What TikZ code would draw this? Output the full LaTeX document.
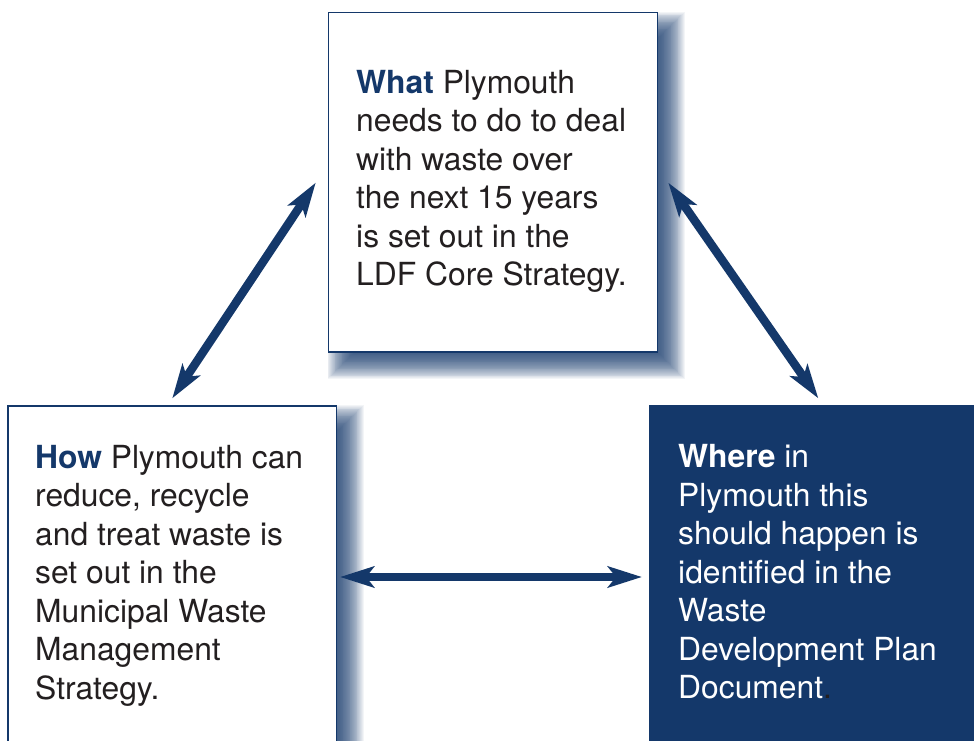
\documentclass[tikz,border=0pt]{standalone}
\usepackage{fontspec}
\setmainfont{TeX Gyre Heros}
\usetikzlibrary{arrows.meta}
\definecolor{navy}{RGB}{20,56,106}
\definecolor{txt}{RGB}{35,31,32}
\begin{document}
\begin{tikzpicture}[x=1pt,y=-1pt,
  box/.style={draw=navy, line width=1.5pt, fill=white, inner sep=0pt, anchor=north west},
  darkbox/.style={draw=navy, line width=1pt, fill=navy, inner sep=0pt, anchor=north west},
  label/.style={anchor=base west, inner sep=0pt, text=txt, font=\fontsize{31.8}{38.5}\selectfont},
  link/.style={draw=navy, line width=8.5pt,
    {Stealth[length=34pt,width=21pt,inset=8pt]}-{Stealth[length=34pt,width=21pt,inset=8pt]}}]
\useasboundingbox (0,0) rectangle (974,741);
\clip (0,0) rectangle (974,741);
% shadows
\foreach \i in {0,...,31}{
  \fill[navy, opacity=0.05] (327.5+14-14+\i*0.875, 12+14-14+\i*0.875) rectangle (656.5+14+14-\i*0.875, 351+14+14-\i*0.875);
  \fill[navy, opacity=0.05] (7+14-14+\i*0.875, 405+14-14+\i*0.875) rectangle (335.5+14+14-\i*0.875, 780);
}
% boxes
\node[box, minimum width=329pt, minimum height=339pt] (what) at (327.5,12) {};
\node[box, minimum width=328.5pt, minimum height=360pt] (how) at (7,405) {};
\node[darkbox, minimum width=340pt, minimum height=360pt] (where) at (649,404.5) {};
% texts
\node[label] (whattext) at (356,93.3) {\parbox[t]{300pt}{\raggedright
  \textbf{\color{navy}What} Plymouth\\
  needs to do to deal\\
  with waste over\\
  the next 15 years\\
  is set out in the\\
  LDF Core Strategy.}};
\node[label] (howtext) at (35,468) {\parbox[t]{300pt}{\raggedright
  \textbf{\color{navy}How} Plymouth can\\
  reduce, recycle\\
  and treat waste is\\
  set out in the\\
  Municipal Waste\\
  Management\\
  Strategy.}};
\node[label, text=white] (wheretext) at (678,467.5) {\parbox[t]{300pt}{\raggedright
  \textbf{Where} in\\
  Plymouth this\\
  should happen is\\
  identified in the\\
  Waste\\
  Development Plan\\
  Document\textcolor{txt}{.}}};
% connectors
\coordinate (l1) at (172.3,398.3);
\coordinate (l2) at (315.7,182.7);
\coordinate (r1) at (668.3,182.7);
\coordinate (r2) at (818.3,398.3);
\coordinate (h1) at (340,577);
\coordinate (h2) at (642,577);
\draw[link] (l1) -- (l2);
\draw[link] (r1) -- (r2);
\draw[link] (h1) -- (h2);
\end{tikzpicture}
\end{document}
